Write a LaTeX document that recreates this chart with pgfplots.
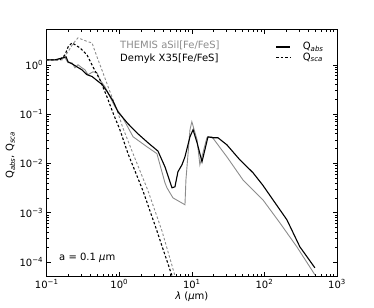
\documentclass[border=0pt]{standalone}
\usepackage{fontspec}
\setmainfont{DejaVu Sans}
\usepackage{pgfplots}
\pgfplotsset{compat=1.18}
\definecolor{qgray}{gray}{0.55}

\pgfplotstableread{
x y
0.100 1.26
0.130 1.26
0.168 1.39
0.185 1.45
0.197 1.15
0.223 1.05
0.261 0.91
0.306 0.79
0.359 0.63
0.421 0.58
0.493 0.48
0.578 0.40
0.677 0.29
0.819 0.185
0.959 0.111
1.32 0.0636
1.81 0.0398
2.49 0.0262
3.41 0.0178
4.26 0.00853
5.32 0.0032
5.85 0.00335
6.43 0.00676
7.31 0.00937
8.04 0.0136
9.42 0.0347
10.4 0.0481
11.8 0.0262
13.8 0.0108
16.7 0.0347
19.5 0.0331
22.9 0.0331
30.4 0.0238
45.9 0.0118
69.4 0.0065
95.2 0.0036
131 0.00183
204 0.000718
308 0.000203
496 0.0000762
}\demykabs

\pgfplotstableread{
x y
0.100 1.26
0.130 1.26
0.179 1.39
0.197 1.10
0.223 1.10
0.245 0.87
0.270 1.00
0.306 0.87
0.337 0.79
0.371 0.63
0.434 0.72
0.493 0.69
0.542 0.496
0.635 0.358
0.745 0.224
0.873 0.141
1.09 0.090
1.55 0.0347
2.41 0.0217
3.30 0.0158
4.26 0.00404
4.54 0.0032
5.49 0.0020
8.04 0.00145
8.29 0.00465
9.42 0.048
10.0 0.070
11.8 0.0301
12.9 0.00937
16.1 0.0331
18.9 0.0347
30.4 0.0136
50.5 0.00465
95.2 0.00183
163 0.000624
280 0.000203
496 0.000055
}\themisabs

\pgfplotstableread{
x y
0.100 1.26
0.152 1.26
0.179 1.60
0.197 2.30
0.223 2.79
0.287 2.21
0.359 1.60
0.434 0.91
0.542 0.496
0.677 0.224
0.819 0.106
1.02 0.0481
1.32 0.0157
2.12 0.00278
3.30 0.000429
5.32 0.0000525
6.00 0.0000320
}\demyksca

\pgfplotstableread{
x y
0.100 1.26
0.163 1.26
0.197 1.84
0.230 2.67
0.270 3.53
0.371 2.93
0.421 2.79
0.493 1.45
0.596 0.69
0.745 0.283
0.929 0.122
1.12 0.0527
1.55 0.0157
2.49 0.00278
3.87 0.000429
5.85 0.0000525
6.30 0.0000390
}\themissca

\begin{document}
\fontsize{10bp}{12bp}\selectfont
\begin{tikzpicture}
\begin{axis}[
  name=ax,
  scale only axis,
  width=290.3bp, height=246.5bp,
  xmode=log, ymode=log,
  xmin=0.1, xmax=1000, ymin=5.2e-5, ymax=5.2,
  xtick={0.1,1,10,100,1000},
  xticklabels={10\textsuperscript{−1},10\textsuperscript{0},10\textsuperscript{1},10\textsuperscript{2},10\textsuperscript{3}},
  ytick={1e-4,1e-3,1e-2,1e-1,1},
  yticklabels={10\textsuperscript{−4},10\textsuperscript{−3},10\textsuperscript{−2},10\textsuperscript{−1},10\textsuperscript{0}},
  ticklabel style={font=\fontsize{10bp}{12bp}\selectfont},
  tick align=inside,
  major tick length=4bp, minor tick length=2bp,
  axis line style={line width=0.8bp},
  every tick/.style={black, line width=0.5bp},
  xlabel={\textit{λ} (\textit{μ}m)},
  ylabel={Q\textsubscript{\textit{abs}}, Q\textsubscript{\textit{sca}}},
  xlabel style={at={(axis description cs:0.5,-0.085)}, anchor=center, font=\fontsize{10bp}{12bp}\selectfont},
  ylabel style={at={(axis description cs:-0.125,0.49)}, anchor=center, font=\fontsize{10bp}{12bp}\selectfont},
  legend style={draw=none, fill=none, at={(axis description cs:0.785,0.96)}, anchor=north west,
    font=\fontsize{10bp}{12bp}\selectfont, row sep=-2.5bp, inner sep=1bp},
  legend cell align=left,
  legend image code/.code={\draw[#1] (0bp,0bp) -- (14bp,0bp);},
]
\addplot[qgray, line width=0.9bp, forget plot] table {\themisabs};
\addplot[qgray, line width=0.9bp, dash pattern=on 2.5bp off 2bp, forget plot] table {\themissca};
\addplot[black, line width=1.1bp, forget plot] table {\demykabs};
\addplot[black, line width=1.1bp, dash pattern=on 2.5bp off 2bp, forget plot] table {\demyksca};
\addlegendimage{black, line width=1.1bp}
\addlegendentry{\rule{10bp}{0bp}Q\textsubscript{\textit{abs}}}
\addlegendimage{black, line width=1.1bp, dash pattern=on 2.5bp off 2bp}
\addlegendentry{\rule{10bp}{0bp}Q\textsubscript{\textit{sca}}}
\node[anchor=west, text=qgray, inner sep=0] at (axis description cs:0.2525,0.937) {THEMIS aSil[Fe/FeS]};
\node[anchor=west, inner sep=0] at (axis description cs:0.2525,0.880) {Demyk X35[Fe/FeS]};
\node[anchor=west, inner sep=0] at (axis description cs:0.0424,0.073) {a = 0.1 \textit{μ}m};
\coordinate (bbsw) at (axis description cs:-0.1609,-0.1298);
\coordinate (bbne) at (axis description cs:1.1275,1.1197);
\end{axis}
\pgfresetboundingbox
\path[use as bounding box] (bbsw) rectangle (bbne);
\end{tikzpicture}
\end{document}
